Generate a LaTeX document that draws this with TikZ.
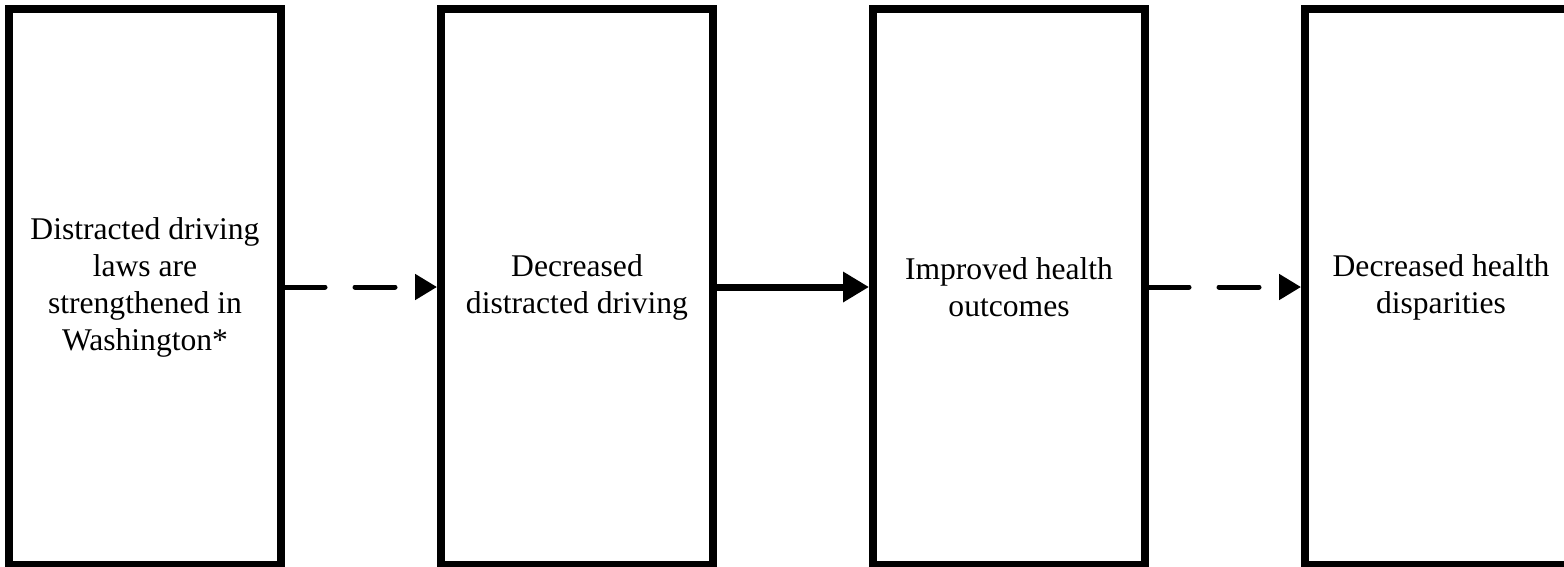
\documentclass[tikz,border=0pt]{standalone}
\usepackage{fontspec}
\setmainfont{Liberation Serif}
\usepackage{tikz}
\usetikzlibrary{positioning, arrows.meta}

\begin{document}
\begin{tikzpicture}[
  font=\fontsize{31.6}{37}\selectfont,
  stage/.style={rectangle, draw, line width=8pt, fill=white,
             minimum width=272pt, minimum height=556pt,
             inner sep=0pt, align=center},
  maybe/.style={line width=5pt, dash pattern=on 40pt off 30pt, line cap=round,
             -{Triangle[length=22pt, width=25pt]}},
  sure/.style={line width=7pt,
             -{Triangle[length=26pt, width=29pt]}},
]
\useasboundingbox (0pt,0pt) rectangle (1564pt,-566pt);

% ---- Stages ----
\node[stage] (laws) at (145pt,-287pt) {%
  Distracted driving\\
  laws are\\
  strengthened in\\
  Washington*
};
\node[stage, right=152pt of laws] (less) {%
  Decreased\\
  distracted driving
};
\node[stage, right=152pt of less] (health) {%
  Improved health\\
  outcomes
};
\node[stage, right=152pt of health] (gaps) {%
  Decreased health\\
  disparities
};

% ---- Links ----
\draw[maybe] (laws) -- (less);
\draw[sure] (less) -- (health);
\draw[maybe] (health) -- (gaps);

\end{tikzpicture}
\end{document}
